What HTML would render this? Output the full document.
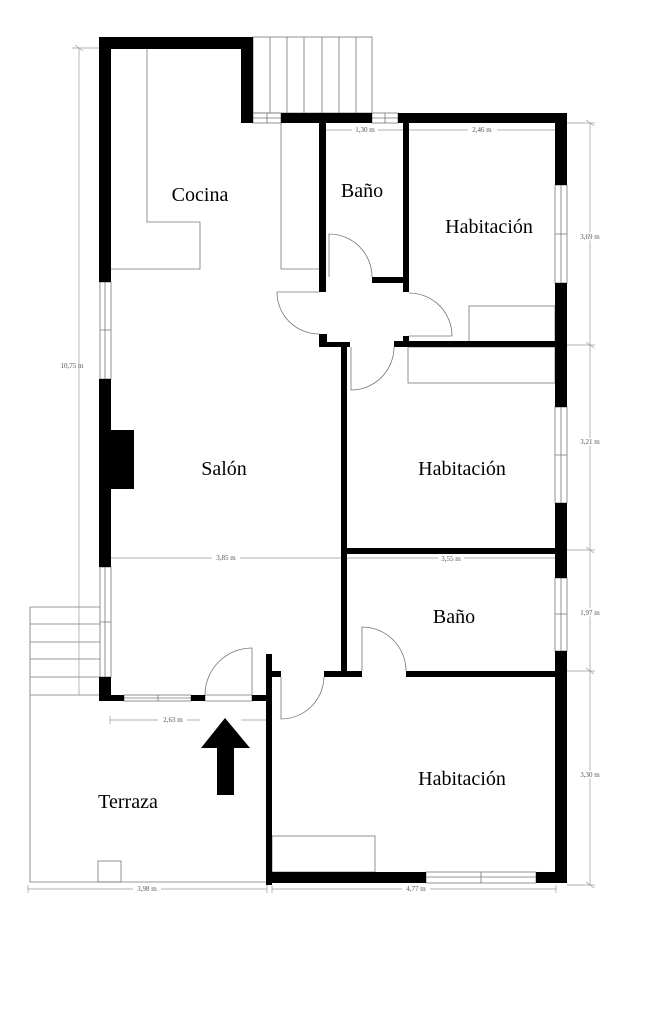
<!DOCTYPE html>
<html><head><meta charset="utf-8"><style>
html,body{margin:0;padding:0;background:#fff;}
svg{display:block;}
text{font-family:"Liberation Serif",serif;}
.d{font-family:"Liberation Sans",sans-serif;font-size:7px;fill:#555;}
</style></head><body>
<svg width="649" height="1024" viewBox="0 0 649 1024" xmlns="http://www.w3.org/2000/svg">
<rect width="649" height="1024" fill="#fff"/>
<!-- thin lines -->
<g stroke="#777" stroke-width="0.8" fill="none">
  <!-- stairs top -->
  <rect x="253" y="37" width="119" height="76"/>
  <path d="M270 37V113M287 37V113M304 37V113M322 37V113M339 37V113M356 37V113"/>
  <!-- kitchen counters -->
  <path d="M147 48V222H200V269H111M281 123V269H319"/>
  <rect x="469" y="306" width="86" height="36"/>
  <rect x="408" y="347" width="147" height="36"/>
  <rect x="272" y="836" width="103" height="36"/>
  <rect x="98" y="861" width="23" height="21"/>
  <!-- left stairs -->
  <path d="M30 607H100M30 624H100M30 642H100M30 659H100M30 677H100M30 607V882H270M30 695H100"/>
  <!-- windows -->
  <rect x="100" y="282" width="11" height="97"/><path d="M100 330H111M105 282V379"/>
  <rect x="100" y="567" width="11" height="110"/><path d="M100 622H111M105 567V677"/>
  <rect x="555" y="185" width="12" height="98"/><path d="M555 234H567M561 185V283"/>
  <rect x="555" y="407" width="12" height="96"/><path d="M555 455H567M561 407V503"/>
  <rect x="555" y="578" width="12" height="73"/><path d="M555 614H567M561 578V651"/>
  <rect x="253" y="113" width="28" height="10"/><path d="M253 118H281M267 113V123"/>
  <rect x="372" y="113" width="26" height="10"/><path d="M372 118H398M385 113V123"/>
  <rect x="124" y="695" width="67" height="6"/><path d="M124 698H191M158 695V701"/>
  <rect x="426" y="872" width="110" height="11"/><path d="M426 877H536M481 872V883"/>
  <path d="M205 695H252V701H205Z"/>
  <!-- doors -->
  <path d="M329 277V234A43 43 0 0 1 372 277"/>
  <path d="M319 292H277A42 42 0 0 0 319 334"/>
  <path d="M409 336H452A43 43 0 0 0 409 293"/>
  <path d="M351 347V390A43 43 0 0 0 394 347"/>
  <path d="M362 671V627A44 44 0 0 1 406 671"/>
  <path d="M281 677V719A43 43 0 0 0 324 677"/>
  <path d="M252 695V648A47 47 0 0 0 205 695"/>
</g>
<!-- dimension lines -->
<g stroke="#999" stroke-width="0.7" fill="none">
  <path d="M79 48V695M72 48H100M72 695H100"/>
  <path d="M590 123V885M567 123H595M567 345H595M567 550H595M567 671H595M567 885H595"/>
  <path d="M326 130H352M378 130H403M409 130H468M497 130H555"/>
  <path d="M111 558H212M240 558H341M345 558H438M464 558H557"/>
  <path d="M110 720H158M187 720H200M241 720H267"/>
  <path d="M28 889H133M161 889H267M272 889H402M430 889H556"/>
  <path d="M28 885V893M267 885V893M272 885V893M556 885V893M110 716V724M267 716V724"/>
  <path d="M75 45L83 51M586 120L594 126M586 342L594 348M586 547L594 553M586 668L594 674M586 882L594 888"/>
</g>
<g class="d" text-anchor="middle">
  <text x="365" y="132">1,30 m</text>
  <text x="482" y="132">2,46 m</text>
  <text x="226" y="560">3,85 m</text>
  <text x="451" y="561">3,55 m</text>
  <text x="173" y="722">2,63 m</text>
  <text x="147" y="891">3,98 m</text>
  <text x="416" y="891">4,77 m</text>
  <text x="72" y="368">10,75 m</text>
  <text x="590" y="239" fill="#555" style="paint-order:stroke" stroke="#fff" stroke-width="3">3,69 m</text>
  <text x="590" y="444" style="paint-order:stroke" stroke="#fff" stroke-width="3">3,21 m</text>
  <text x="590" y="615" style="paint-order:stroke" stroke="#fff" stroke-width="3">1,97 m</text>
  <text x="590" y="777" style="paint-order:stroke" stroke="#fff" stroke-width="3">3,30 m</text>
</g>
<!-- walls -->
<g fill="#000">
  <rect x="100" y="37" width="153" height="12"/>
  <rect x="241" y="37" width="12" height="86"/>
  <rect x="99" y="37" width="12" height="245"/>
  <rect x="99" y="379" width="12" height="188"/>
  <rect x="111" y="430" width="23" height="59"/>
  <rect x="99" y="677" width="12" height="24"/>
  <rect x="99" y="695" width="25" height="6"/>
  <rect x="191" y="695" width="14" height="6"/>
  <rect x="252" y="695" width="18" height="6"/>
  <rect x="281" y="113" width="91" height="10"/>
  <rect x="398" y="113" width="169" height="10"/>
  <rect x="555" y="113" width="12" height="72"/>
  <rect x="555" y="283" width="12" height="124"/>
  <rect x="555" y="503" width="12" height="75"/>
  <rect x="555" y="651" width="12" height="232"/>
  <rect x="319" y="123" width="7" height="169"/>
  <rect x="403" y="123" width="6" height="169"/>
  <rect x="372" y="277" width="31" height="6"/>
  <rect x="319" y="334" width="8" height="13"/>
  <rect x="319" y="342" width="31" height="5"/>
  <rect x="403" y="336" width="6" height="11"/>
  <rect x="394" y="341" width="173" height="6"/>
  <rect x="341" y="342" width="6" height="335"/>
  <rect x="343" y="548" width="224" height="6"/>
  <rect x="324" y="671" width="38" height="6"/>
  <rect x="406" y="671" width="161" height="6"/>
  <rect x="266" y="654" width="6" height="231"/>
  <rect x="266" y="671" width="15" height="6"/>
  <rect x="266" y="872" width="160" height="11"/>
  <rect x="536" y="872" width="31" height="11"/>
  <!-- arrow -->
  <polygon points="201,748 225,718 250,748"/>
  <rect x="217" y="747" width="17" height="48"/>
</g>
<!-- labels -->
<g font-size="20" text-anchor="middle" fill="#000">
  <text x="200" y="201">Cocina</text>
  <text x="362" y="197">Baño</text>
  <text x="489" y="233">Habitación</text>
  <text x="224" y="475">Salón</text>
  <text x="462" y="475">Habitación</text>
  <text x="454" y="623">Baño</text>
  <text x="462" y="785">Habitación</text>
  <text x="128" y="808">Terraza</text>
</g>
</svg>
</body></html>
